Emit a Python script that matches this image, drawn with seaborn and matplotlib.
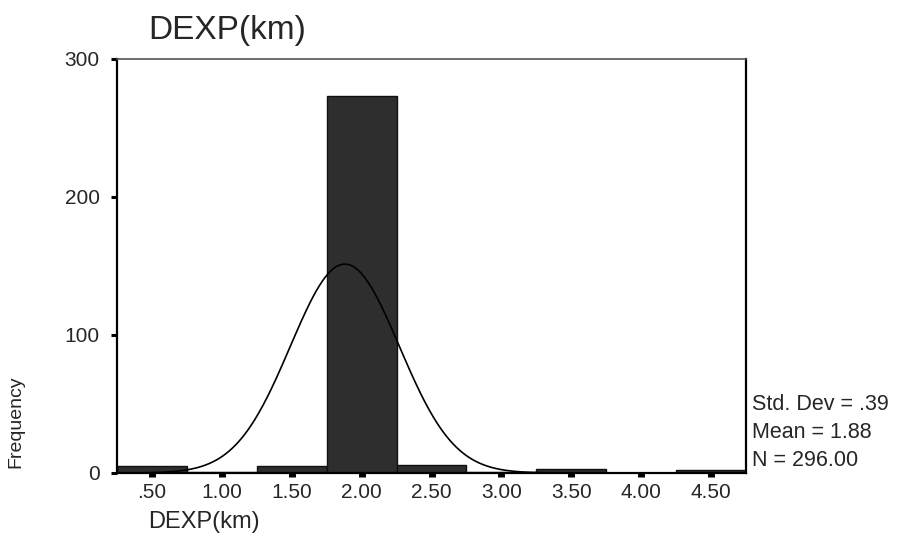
import numpy as np
import pandas as pd
import matplotlib
matplotlib.use("Agg")
import matplotlib.pyplot as plt
import seaborn as sns

# ---- data ----
bin_centers = [0.5, 1.0, 1.5, 2.0, 2.5, 3.0, 3.5, 4.0, 4.5]
counts = [5, 1, 5, 273, 6, 1, 3, 0, 2]
x_ticks = [0.5, 1.0, 1.5, 2.0, 2.5, 3.0, 3.5, 4.0, 4.5]
x_ticklabels = [".50", "1.00", "1.50", "2.00", "2.50", "3.00", "3.50", "4.00", "4.50"]
y_ticks = [0, 100, 200, 300]
y_ticklabels = ["0", "100", "200", "300"]
std_dev = 0.39
mean = 1.88
n_total = 296.0
bin_width = 0.5
title = "DEXP(km)"
x_label = "DEXP(km)"
y_label = "Frequency"
stats_lines = ["Std. Dev = .39", "Mean = 1.88", "N = 296.00"]

sns.set_theme(style="white")
plt.rcParams["font.family"] = ["Liberation Sans", "DejaVu Sans"]

fig = plt.figure(figsize=(9.01, 5.55), dpi=100)
ax = fig.add_axes([117 / 901, 1 - 473 / 555, (746 - 117) / 901, (473 - 59) / 555])

df = pd.DataFrame({"x": bin_centers, "w": counts})
sns.histplot(data=df, x="x", weights="w", binwidth=bin_width,
             binrange=(0.25, 4.75), color="#2e2e2e", edgecolor="#111111",
             linewidth=1.0, alpha=1.0, ax=ax)

# fitted normal curve
xs = np.linspace(0.25, 4.75, 600)
pdf = n_total * bin_width / (std_dev * np.sqrt(2 * np.pi)) * np.exp(-0.5 * ((xs - mean) / std_dev) ** 2)
sns.lineplot(x=xs, y=pdf, color="black", linewidth=1.2, ax=ax)

ax.set_xlim(0.25, 4.75)
ax.set_ylim(0, 300)
ax.set_xticks(x_ticks)
ax.set_xticklabels(x_ticklabels, fontsize=15)
ax.set_yticks(y_ticks)
ax.set_yticklabels(y_ticklabels, fontsize=15)
ax.set_xlabel("")
ax.set_ylabel("")

ax.tick_params(axis="x", direction="out", length=3, width=5, color="black",
               bottom=True, pad=4)
ax.tick_params(axis="y", direction="out", length=4.5, width=2.2, color="black",
               left=True, pad=8)

for side in ["left", "bottom", "right"]:
    ax.spines[side].set_color("black")
    ax.spines[side].set_linewidth(1.6)
ax.spines["top"].set_color("#555555")
ax.spines["top"].set_linewidth(1.2)

fig.text(148 / 901, 1 - 30 / 555, title, fontsize=24, ha="left", va="center")
fig.text(148 / 901, 1 - 522 / 555, x_label, fontsize=17, ha="left", va="center")
fig.text(16 / 901, 1 - 422 / 555, y_label, fontsize=14, rotation=90,
         ha="center", va="center")

for i, line in enumerate(stats_lines):
    fig.text(752 / 901, 1 - (404 + 28 * i) / 555, line, fontsize=15.5,
             ha="left", va="center")

fig.savefig("out.png", dpi=100)
